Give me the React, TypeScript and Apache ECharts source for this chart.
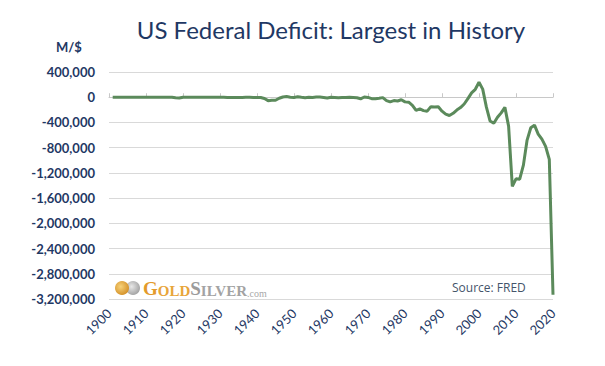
import React, { useEffect, useRef } from "react";
import * as echarts from "echarts";

const years: number[] = [];
for (let y = 1901; y <= 2020; y++) years.push(y);

// US federal surplus(+)/deficit(-), millions of dollars, 1901-2020
const deficit: number[] = [
  63, 77, 45, -43, -23, 25, 87, -57, -89, -18,
  11, 3, 0, -1, -63, 48, -853, -9032, -13363, 291,
  509, 736, 713, 963, 717, 865, 1155, 939, 734, 738,
  -462, -2735, -2602, -3586, -2803, -4304, -2193, -89, -2846, -2920,
  -4941, -20503, -54554, -47557, -47553, -15936, 4018, 11796, 580, -3119,
  6102, -1519, -6493, -1154, -2993, 3947, 3412, -2769, -12849, 301,
  -3335, -7146, -4756, -5915, -1411, -3698, -8643, -25161, 3242, -2842,
  -23033, -23373, -14908, -6135, -53242, -73732, -53659, -59185, -40726, -73830,
  -78968, -127977, -207802, -185367, -212308, -221227, -149730, -155178, -152639, -221036,
  -269238, -290321, -255051, -203186, -163952, -107431, -21884, 69270, 125610, 236241,
  128236, -157758, -377585, -412727, -318346, -248181, -160701, -458553, -1412688, -1294373,
  -1299599, -1076573, -679775, -484602, -441960, -584651, -665446, -779137, -984388, -3131917,
];

const titleText = "US Federal Deficit: Largest in History";
const unitText = "M/$";
const sourceText = "Source: FRED";

const navy = "#1F3864";

export default function App() {
  const ref = useRef<HTMLDivElement>(null);
  useEffect(() => {
    if (!ref.current) return;
    const chart = echarts.init(ref.current, undefined, { renderer: "svg" });
    chart.setOption({
      animation: false,
      backgroundColor: "#ffffff",
      grid: { left: 109, right: 52, top: 72, bottom: 67 },
      title: {
        text: titleText,
        left: 326,
        textAlign: "center",
        top: 12,
        textStyle: { fontFamily: "Lato", fontSize: 24, fontWeight: "normal", color: navy },
      },
      xAxis: [
        {
          type: "value",
          position: "bottom",
          min: 1900,
          max: 2020,
          interval: 10,
          axisLine: { show: false, onZero: false },
          axisTick: { show: false },
          splitLine: { show: false },
          axisLabel: {
            show: true,
            rotate: 45,
            margin: 12,
            color: navy,
            fontFamily: "Lato",
            fontSize: 13,
            hideOverlap: false,
            formatter: (v: number) => String(v),
          },
        },
        {
          type: "value",
          min: 1900,
          max: 2020,
          interval: 10,
          axisLine: { show: true, onZero: true, lineStyle: { color: "#c8c8c8", width: 1 } },
          axisTick: { show: true, length: 4, lineStyle: { color: "#c8c8c8" } },
          axisLabel: { show: false },
          splitLine: { show: false },
        },
      ],
      yAxis: {
        type: "value",
        min: -3200000,
        max: 400000,
        interval: 400000,
        axisLine: { show: false },
        axisTick: { show: false },
        splitLine: { lineStyle: { color: "#d9d9d9", width: 1 } },
        axisLabel: {
          margin: 14,
          color: navy,
          fontFamily: "Lato",
          fontWeight: "bold",
          fontSize: 13,
          formatter: (v: number) => (v < 0 ? "-" : "") + Math.abs(v).toLocaleString("en-US"),
        },
      },
      graphic: [
        {
          type: "text",
          left: 56,
          top: 40,
          style: { text: unitText, fill: navy, font: "bold 13px Lato" },
        },
        {
          type: "text",
          left: 452,
          top: 281,
          style: { text: sourceText, fill: "#44546A", font: "12px 'Open Sans'" },
        },
        {
          type: "circle",
          shape: { cx: 133, cy: 288, r: 7 },
          style: {
            fill: new echarts.graphic.RadialGradient(0.4, 0.4, 0.7, [
              { offset: 0, color: "#e8e8e8" },
              { offset: 1, color: "#9a9a9a" },
            ]),
          },
        },
        {
          type: "circle",
          shape: { cx: 122, cy: 288, r: 7 },
          style: {
            fill: new echarts.graphic.RadialGradient(0.4, 0.4, 0.7, [
              { offset: 0, color: "#f7d27a" },
              { offset: 1, color: "#d08a20" },
            ]),
          },
        },
        {
          type: "text",
          left: 143,
          top: 279,
          style: {
            text: "{G|G}{g|OLD}{S|S}{s|ILVER}{c|.com}",
            rich: {
              G: { fontFamily: "Liberation Serif", fontSize: 19, fontWeight: "bold", fill: "#E39A2B", verticalAlign: "bottom" },
              g: { fontFamily: "Liberation Serif", fontSize: 15, fontWeight: "bold", fill: "#E8A53A", verticalAlign: "bottom" },
              S: { fontFamily: "Liberation Serif", fontSize: 19, fontWeight: "bold", fill: "#9b9b9b", verticalAlign: "bottom" },
              s: { fontFamily: "Liberation Serif", fontSize: 15, fontWeight: "bold", fill: "#a3a3a3", verticalAlign: "bottom" },
              c: { fontFamily: "Liberation Serif", fontSize: 10, fill: "#a8a8a8", verticalAlign: "bottom" },
            },
          },
        },
      ],
      series: [
        {
          type: "line",
          xAxisIndex: 1,
          data: years.map((y, i) => [y, deficit[i]]),
          showSymbol: false,
          lineStyle: { color: "#5B8A5B", width: 3 },
          itemStyle: { color: "#5B8A5B" },
          z: 5,
        },
      ],
    });
    return () => chart.dispose();
  }, []);
  return <div ref={ref} style={{ width: 605, height: 366, position: "absolute", left: 0, top: 0 }} />;
}
